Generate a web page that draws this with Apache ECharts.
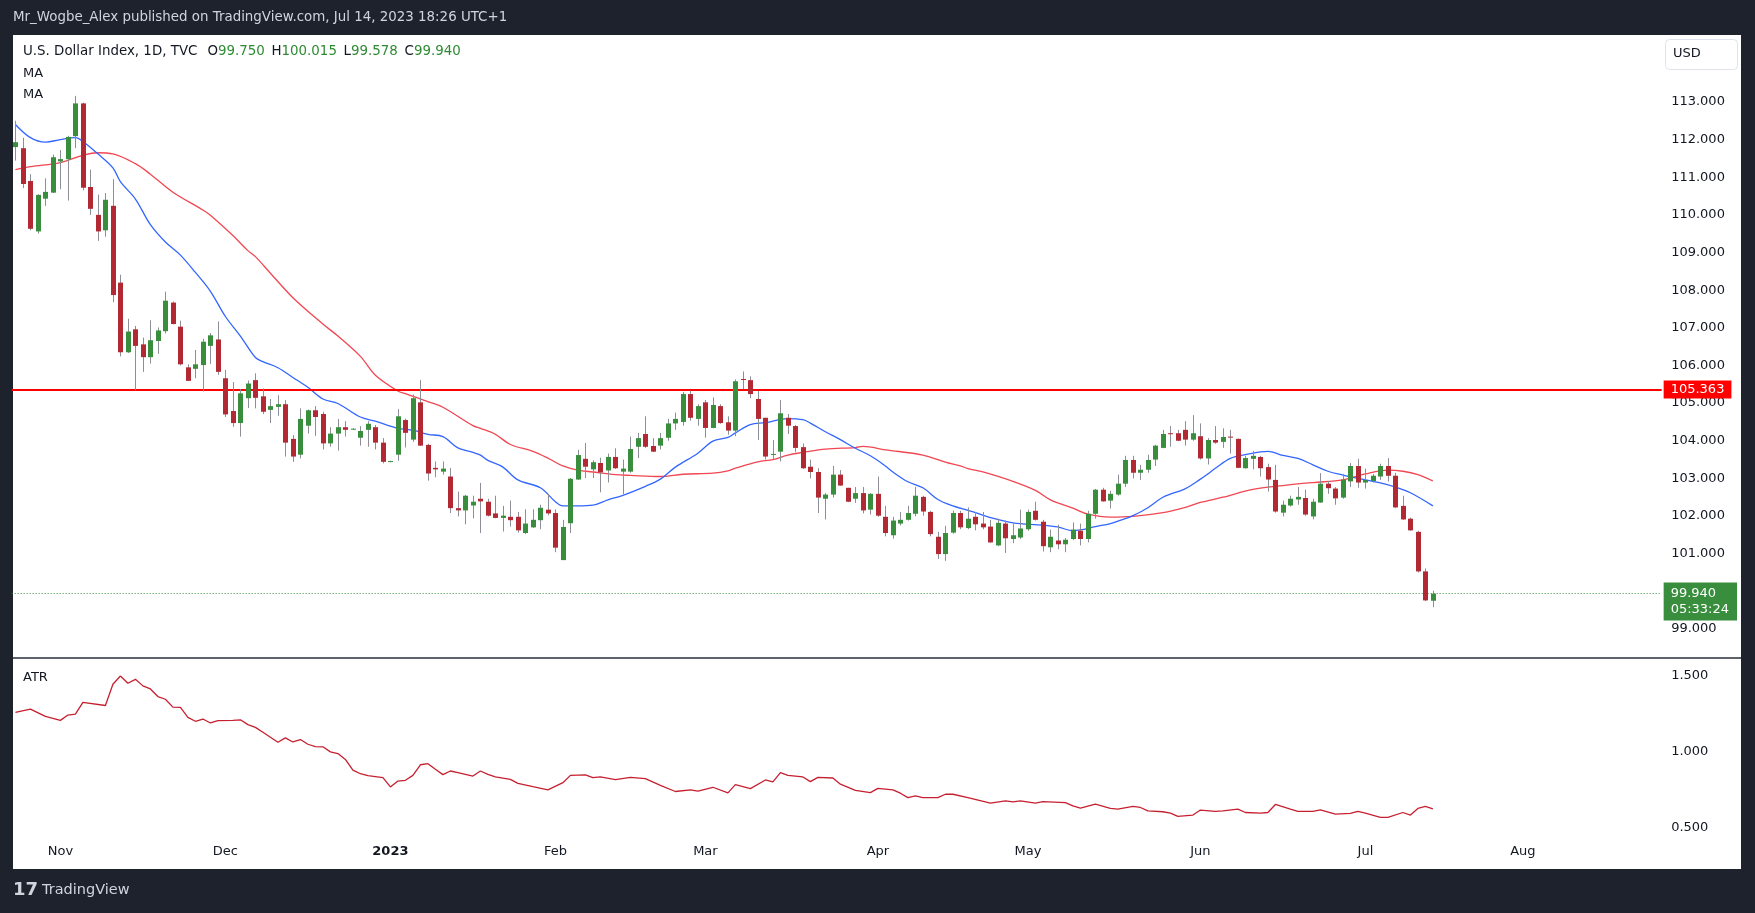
<!DOCTYPE html>
<html><head><meta charset="utf-8">
<script src="https://cdn.jsdelivr.net/npm/echarts@6/dist/echarts.min.js"></script>
<style>
html,body{margin:0;padding:0;background:#1e222d;overflow:hidden;}
#bg{position:absolute;left:13px;top:35px;width:1728px;height:834px;background:#ffffff;}
#c{position:absolute;left:0;top:0;width:1755px;height:913px;}
</style>
</head><body><div id="bg"></div><div id="c"></div>
<script>
// ---------- DATA ----------
const startDate = '2022-10-24';   // first visible trading day
const slotCount = 220;            // trading-day slots shown on the time axis (incl. future space)

const openP = [111.80,111.77,110.90,109.56,110.43,110.59,111.42,111.48,112.09,112.96,
110.74,110.00,109.59,110.24,108.20,106.35,106.96,106.56,106.22,106.65,
106.91,107.67,107.03,105.95,105.91,106.01,106.52,106.69,105.66,104.79,
104.47,105.13,105.61,105.18,104.82,104.90,104.97,104.05,103.63,104.40,
104.81,104.71,103.93,104.19,104.36,104.30,104.08,104.29,104.36,103.95,
103.44,103.63,104.55,104.03,105.02,103.89,103.28,103.18,103.05,102.21,
102.15,102.28,102.46,102.38,102.07,101.95,101.98,101.98,101.55,101.70,
101.89,102.17,102.08,100.83,101.81,102.97,103.52,103.24,103.41,103.21,
103.57,103.18,103.18,103.84,104.18,103.86,103.87,104.08,104.46,104.50,
105.24,104.58,105.02,104.34,104.92,104.49,104.27,105.64,105.61,105.11,
104.61,103.63,103.71,104.61,104.39,103.83,103.31,103.17,102.46,102.57,
103.10,102.75,102.46,102.61,102.17,102.59,101.98,101.49,101.80,101.90,
102.06,102.51,102.11,101.45,100.99,101.56,102.08,101.68,101.98,101.80,
101.72,101.22,101.80,101.39,101.43,101.65,102.14,101.85,101.17,101.35,
101.25,101.39,101.61,101.39,102.06,102.70,102.41,102.57,102.86,103.49,
103.15,103.23,103.50,103.81,104.20,104.20,104.29,104.03,104.12,103.53,
104.02,103.97,104.11,104.05,103.27,103.52,103.57,103.30,102.96,102.09,
102.28,102.44,102.48,101.99,102.36,102.86,102.73,102.49,102.92,103.33,
102.89,102.93,103.05,103.33,103.07,102.27,101.93,101.58,100.53,99.750];
const highP = [112.50,112.05,111.08,110.55,110.97,111.60,111.72,112.10,113.16,112.98,
111.20,110.54,110.58,110.95,108.41,107.24,107.05,106.74,107.20,107.01,
107.96,107.70,107.19,106.03,106.41,106.71,106.86,107.17,105.88,105.56,
105.37,105.60,105.79,105.39,105.11,105.21,105.08,104.15,104.86,104.83,
104.92,104.77,104.36,104.58,104.52,104.33,104.39,104.52,104.42,104.07,
103.47,104.84,104.59,105.23,105.61,103.92,103.45,103.45,103.28,102.65,
102.56,102.54,102.88,102.46,102.54,102.27,102.41,102.11,102.18,102.18,
102.30,102.58,102.18,101.90,103.01,103.76,103.94,103.48,103.55,103.66,
103.80,103.50,104.11,104.21,104.65,104.07,104.21,104.58,104.75,105.30,
105.33,104.97,105.08,105.15,104.97,104.65,105.63,105.84,105.71,105.32,
104.61,104.02,105.08,104.71,104.42,103.93,103.50,103.27,102.61,103.33,
103.22,102.75,102.77,102.77,102.61,103.05,102.27,101.98,102.11,102.27,
102.77,102.54,102.14,101.58,101.74,102.14,102.14,102.23,102.11,102.11,
101.90,101.93,101.88,101.80,102.17,102.17,102.38,101.90,101.64,101.77,
101.42,101.83,101.80,102.14,102.72,102.75,102.67,103.10,103.60,103.60,
103.36,103.63,103.89,104.29,104.39,104.29,104.52,104.68,104.46,104.07,
104.39,104.33,104.29,104.06,103.60,103.73,103.60,103.39,103.36,102.41,
102.54,102.77,102.70,102.46,103.14,102.93,102.77,103.12,103.41,103.52,
103.26,103.12,103.39,103.54,103.15,102.54,101.96,101.61,100.61,100.015];
const lowP = [111.44,110.71,109.59,109.50,110.24,110.58,110.68,110.38,111.77,110.65,
110.00,109.31,109.42,107.68,106.24,106.33,105.34,105.83,106.05,106.31,
106.85,107.09,106.00,105.59,105.66,105.31,106.04,105.75,104.63,104.37,
104.11,104.87,104.86,104.71,104.47,104.66,103.58,103.44,103.53,104.19,
104.13,103.77,103.84,103.74,104.11,104.29,103.87,103.84,103.77,103.40,
103.43,103.47,103.82,103.97,103.86,102.94,103.03,103.10,102.08,101.99,
101.78,101.94,101.55,101.99,101.94,101.59,101.72,101.56,101.52,101.68,
101.65,102.02,101.04,100.83,101.55,102.96,103.01,103.01,102.63,102.89,
103.25,102.58,103.15,103.54,103.81,103.70,103.77,104.00,104.29,104.40,
104.53,104.40,104.08,104.33,104.45,104.16,104.12,105.37,105.13,104.02,
103.50,103.50,103.45,104.18,103.69,103.25,103.00,102.08,101.91,102.49,
102.80,102.37,102.35,102.07,102.04,101.98,101.46,101.40,101.75,101.88,
101.99,102.01,101.46,100.86,100.81,101.53,101.65,101.65,101.62,101.65,
101.29,101.20,101.02,101.28,101.39,101.61,101.88,101.06,101.04,101.12,
101.04,101.36,101.22,101.30,101.93,102.38,102.20,102.54,102.77,103.00,
102.96,103.15,103.33,103.80,103.84,103.99,103.87,104.00,103.50,103.37,
103.92,103.81,103.66,103.27,103.26,103.24,103.05,102.65,102.09,101.99,
102.25,102.30,102.01,101.91,102.35,102.59,102.30,102.46,102.77,102.75,
102.73,102.89,102.96,102.92,102.21,101.90,101.61,100.50,99.74,99.578];
const closeP = [111.93,110.82,109.63,110.53,110.61,111.53,111.48,112.07,112.96,110.72,
110.16,109.56,110.40,107.87,106.35,106.90,106.52,106.22,106.67,106.93,
107.72,107.10,106.03,105.59,106.03,106.63,106.80,105.83,104.70,104.47,
105.26,105.52,105.14,104.77,104.92,104.97,103.95,103.58,104.58,104.81,
104.63,103.93,104.19,104.36,104.29,104.32,104.26,104.45,103.95,103.44,
103.46,104.65,104.21,105.13,103.87,103.13,103.24,103.26,102.21,102.15,
102.54,102.38,102.39,102.01,101.95,102.01,101.89,101.62,101.80,101.90,
102.22,102.07,101.16,101.71,102.99,103.62,103.31,103.43,103.16,103.57,
103.27,103.26,103.78,104.07,103.84,103.71,104.07,104.46,104.58,105.24,
104.61,104.92,104.34,104.95,104.47,104.27,105.58,105.62,105.24,104.58,
103.58,103.65,104.73,104.40,103.81,103.27,103.17,102.49,102.57,103.10,
102.81,102.38,102.61,102.15,102.59,102.01,101.55,101.88,101.90,102.08,
102.54,102.12,101.52,100.99,101.55,102.08,101.70,101.93,101.78,101.70,
101.30,101.82,101.41,101.49,101.67,102.11,101.90,101.20,101.45,101.25,
101.37,101.64,101.39,102.06,102.70,102.39,102.59,102.86,103.49,103.15,
103.23,103.49,103.87,104.18,104.18,104.00,104.03,104.20,103.53,104.02,
103.95,104.10,104.09,103.28,103.54,103.60,103.27,102.97,102.12,102.30,
102.46,102.51,102.04,102.38,102.86,102.74,102.47,102.97,103.33,102.89,
102.96,103.07,103.33,103.07,102.23,101.91,101.62,100.53,99.76,99.940];

// moving averages at selected bars (bar index, value)
const maFastIdx = [0,2,4,6,8,9,11,13,14,16,18,20,22,24,26,28,30,32,33,35,37,39,41,43,46,48,51,53,55,57,59,61,62,63,65,67,70,72,73,75,77,79,81,84,86,88,91,93,95,96,98,100,103,105,106,108,110,112,114,116,117,119,121,123,125,127,128,130,133,137,139,141,142,144,146,148,149,151,153,156,158,159,160,162,164,167,169,171,173,175,177,180,182,184,186,189];
const maFastVal = [112.40,112.05,111.93,112.00,112.05,111.95,111.62,111.25,110.88,110.42,109.74,109.28,108.93,108.47,107.97,107.30,106.78,106.21,106.10,105.94,105.68,105.42,105.11,104.99,104.63,104.52,104.33,104.28,104.17,104.11,103.81,103.69,103.62,103.48,103.30,102.96,102.75,102.38,102.27,102.27,102.29,102.43,102.55,102.79,102.98,103.30,103.67,103.99,104.09,104.21,104.43,104.48,104.59,104.56,104.47,104.24,104.03,103.80,103.60,103.33,103.17,102.91,102.75,102.44,102.27,102.15,102.09,101.96,101.82,101.76,101.71,101.61,101.63,101.72,101.80,101.93,102.01,102.22,102.50,102.73,102.98,103.12,103.27,103.53,103.63,103.72,103.61,103.53,103.36,103.19,103.09,102.96,102.88,102.77,102.62,102.27];
const maSlowIdx = [0,2,6,9,11,13,16,18,21,25,26,29,31,32,34,37,41,43,46,48,51,52,55,57,61,62,64,66,69,71,73,75,77,80,82,86,89,93,95,96,99,101,103,105,108,112,113,116,121,124,126,127,129,133,136,138,141,143,146,149,153,156,158,161,165,169,173,177,180,183,185,187,189];
const maSlowVal = [111.20,111.28,111.39,111.58,111.65,111.62,111.36,111.08,110.60,110.13,109.99,109.45,109.05,108.89,108.45,107.80,107.10,106.78,106.24,105.74,105.32,105.25,105.04,104.89,104.40,104.33,104.17,103.90,103.72,103.54,103.33,103.22,103.17,103.10,103.08,103.05,103.11,103.14,103.20,103.27,103.44,103.50,103.62,103.69,103.78,103.82,103.85,103.76,103.62,103.43,103.33,103.26,103.17,102.92,102.68,102.43,102.21,102.05,101.97,101.99,102.09,102.23,102.36,102.50,102.71,102.81,102.89,102.96,103.12,103.22,103.19,103.10,102.93];

// ATR (bar index, value)
const atrIdx = [0,2,4,6,7,8,9,12,13,14,15,16,17,18,19,20,21,22,23,24,25,26,27,29,30,31,32,33,35,36,37,38,39,40,41,42,43,44,45,46,47,49,50,51,52,53,54,55,56,57,58,59,61,62,63,64,66,67,69,71,73,74,76,77,78,80,82,84,86,88,90,91,93,95,96,98,100,101,102,103,105,106,107,109,110,112,114,115,117,118,119,120,121,123,124,125,127,130,132,133,134,136,137,140,141,142,144,146,147,149,150,151,153,154,155,157,158,160,161,163,164,166,167,168,170,171,173,174,176,178,179,180,182,183,185,186,187,188,189];
const atrVal = [1.260,1.282,1.234,1.208,1.243,1.249,1.326,1.306,1.446,1.500,1.452,1.478,1.435,1.415,1.365,1.347,1.295,1.293,1.228,1.202,1.217,1.191,1.206,1.208,1.212,1.180,1.162,1.130,1.064,1.093,1.066,1.082,1.051,1.036,1.034,1.001,0.990,0.951,0.881,0.857,0.845,0.831,0.770,0.809,0.814,0.846,0.916,0.923,0.886,0.851,0.875,0.864,0.842,0.875,0.853,0.836,0.820,0.794,0.772,0.751,0.798,0.846,0.849,0.831,0.836,0.818,0.833,0.825,0.781,0.740,0.751,0.742,0.768,0.731,0.785,0.759,0.816,0.803,0.864,0.846,0.836,0.805,0.833,0.829,0.788,0.748,0.733,0.761,0.751,0.729,0.700,0.711,0.700,0.700,0.722,0.722,0.700,0.663,0.679,0.672,0.679,0.663,0.674,0.667,0.646,0.631,0.657,0.629,0.624,0.642,0.635,0.613,0.607,0.598,0.576,0.585,0.618,0.609,0.613,0.624,0.602,0.598,0.602,0.655,0.624,0.609,0.609,0.620,0.591,0.596,0.609,0.598,0.570,0.570,0.602,0.585,0.629,0.642,0.626];

const priceMin = 99, priceMax = 113, priceStep = 1;
const atrMin = 0.5, atrMax = 1.5, atrStep = 0.5;
const monthTickDates = ['2022-11-01','2022-12-01','2023-01-02','2023-02-01','2023-03-01','2023-04-03','2023-05-01','2023-06-01','2023-07-03','2023-08-01'];
const monthTickLabels = ['Nov','Dec','2023','Feb','Mar','Apr','May','Jun','Jul','Aug'];
const resistanceLevel = 105.363;
const lastClose = 99.940;
const countdown = '05:33:24';

// ---------- BUILD ----------
function weekdays(start, n){
  const out=[]; const d=new Date(start+'T00:00:00Z');
  while(out.length<n){ const w=d.getUTCDay(); if(w!==0&&w!==6) out.push(d.toISOString().slice(0,10)); d.setUTCDate(d.getUTCDate()+1); }
  return out;
}
const categories = weekdays(startDate, slotCount);
const candleData = openP.map((o,i)=>[i,o,closeP[i],lowP[i],highP[i]]);
const pairs = (idx, val) => idx.map((x,k)=>[x,val[k]]);
const tickMap = {}; monthTickDates.forEach((d,k)=>tickMap[d]=monthTickLabels[k]);

const UP='#388e3c', DOWN='#b22833', WICK='#8c8f97', TXT='#131722';
const FONT='DejaVu Sans, Verdana, sans-serif';

function renderCandle(params, api){
  const i=api.value(0), o=api.value(1), c=api.value(2), l=api.value(3), h=api.value(4);
  const pO=api.coord([i,o]), pC=api.coord([i,c]), pL=api.coord([i,l]), pH=api.coord([i,h]);
  const bw=Math.round(api.size([1,0])[0]*0.67);
  const cx=Math.round(pO[0]);
  const top=Math.min(pO[1],pC[1]), bh=Math.max(1,Math.abs(pO[1]-pC[1]));
  return {type:'group',children:[
    {type:'line',shape:{x1:cx+0.5,y1:pH[1],x2:cx+0.5,y2:pL[1]},style:{stroke:WICK,lineWidth:1}},
    {type:'rect',shape:{x:cx+0.5-bw/2,y:top,width:bw,height:bh},style:{fill:c>=o?UP:DOWN}}
  ]};
}

const gridLeft=11.65, gridWidth=1650;
const chart = echarts.init(document.getElementById('c'), null, {renderer:'canvas'});
chart.setOption({
  backgroundColor:'transparent',
  animation:false,
  textStyle:{fontFamily:FONT},
  grid:[
    {left:gridLeft,width:gridWidth,top:101.9,height:527.1},
    {left:gridLeft,width:gridWidth,top:676,height:152}
  ],
  xAxis:[
    {type:'category',gridIndex:0,data:categories,boundaryGap:true,
     axisLine:{show:false},axisTick:{show:false},axisLabel:{show:false},splitLine:{show:false}},
    {type:'category',gridIndex:1,data:categories,boundaryGap:true,
     axisLine:{show:false},axisTick:{show:false},splitLine:{show:false},
     axisLabel:{show:true,margin:17,color:TXT,fontSize:13,fontFamily:FONT,
       interval:(idx,val)=>tickMap[val]!==undefined,
       formatter:(val)=>tickMap[val]==='2023'?'{b|2023}':(tickMap[val]||''),
       rich:{b:{fontWeight:'bold',fontSize:13,color:TXT,fontFamily:FONT}}}}
  ],
  yAxis:[
    {type:'value',gridIndex:0,position:'right',min:priceMin,max:priceMax,interval:priceStep,
     axisLine:{show:false},axisTick:{show:false},splitLine:{show:false},
     axisLabel:{margin:9.5,color:TXT,fontSize:13,fontFamily:FONT,formatter:v=>v.toFixed(3)}},
    {type:'value',gridIndex:1,position:'right',min:atrMin,max:atrMax,interval:atrStep,
     axisLine:{show:false},axisTick:{show:false},splitLine:{show:false},
     axisLabel:{margin:9.5,color:TXT,fontSize:13,fontFamily:FONT,formatter:v=>v.toFixed(3)}}
  ],
  series:[
    {type:'line',name:'MA slow',xAxisIndex:0,yAxisIndex:0,data:pairs(maSlowIdx,maSlowVal),
     smooth:0.35,symbol:'none',lineStyle:{color:'#f04752',width:1.3},z:3},
    {type:'line',name:'MA fast',xAxisIndex:0,yAxisIndex:0,data:pairs(maFastIdx,maFastVal),
     smooth:0.35,symbol:'none',lineStyle:{color:'#3366ff',width:1.3},z:3,
     markLine:{silent:true,symbol:['none','none'],animation:false,
       data:[
        {yAxis:resistanceLevel,lineStyle:{color:'#ff0000',width:2,type:'solid'},
         label:{show:true,position:'end',distance:2,formatter:resistanceLevel.toFixed(3),
           backgroundColor:'#ff0000',color:'#ffffff',fontSize:13,fontFamily:FONT,padding:[3,7,2,7]}},
        {yAxis:lastClose,lineStyle:{color:UP,width:1,type:[1,2]},
         label:{show:true,position:'end',distance:2,offset:[0,8],formatter:lastClose.toFixed(3)+'\n'+countdown,
           backgroundColor:UP,color:'#ffffff',fontSize:13,lineHeight:16,fontFamily:FONT,padding:[3,8,3,7]}}
       ]}},
    {type:'custom',name:'DXY',xAxisIndex:0,yAxisIndex:0,data:candleData,renderItem:renderCandle,
     encode:{x:0,y:[1,2,3,4]},z:5,clip:false},
    {type:'line',name:'ATR',xAxisIndex:1,yAxisIndex:1,data:pairs(atrIdx,atrVal),
     symbol:'none',lineStyle:{color:'#c62030',width:1.3}}
  ],
  graphic:[
    {type:'text',left:13,top:11,style:{text:'Mr_Wogbe_Alex published on TradingView.com, Jul 14, 2023 18:26 UTC+1',fill:'#d1d4dc',fontSize:13.4,fontFamily:FONT}},
    {type:'text',left:23,top:45,style:{
      text:'{n|U.S. Dollar Index, 1D, TVC}   {n|O}{g|99.750}  {n|H}{g|100.015}  {n|L}{g|99.578}  {n|C}{g|99.940}',
      rich:{n:{fill:TXT,fontSize:13.4,fontFamily:FONT},g:{fill:'#2e8b33',fontSize:13.4,fontFamily:FONT}}}},
    {type:'text',left:23,top:67,style:{text:'MA',fill:TXT,fontSize:13,fontFamily:FONT}},
    {type:'text',left:23,top:88,style:{text:'MA',fill:TXT,fontSize:13,fontFamily:FONT}},
    {type:'text',left:23,top:671,style:{text:'ATR',fill:TXT,fontSize:13,fontFamily:FONT}},
    {type:'rect',left:1665,top:39,shape:{width:72,height:30,r:4},style:{fill:'#ffffff',stroke:'#e0e3eb',lineWidth:1}},
    {type:'text',left:1673,top:47,style:{text:'USD',fill:TXT,fontSize:13,fontFamily:FONT}},
    {type:'line',shape:{x1:13,y1:658,x2:1741,y2:658},style:{stroke:'#2a2e39',lineWidth:1.5}},
    {type:'text',left:13,top:881,style:{text:'17',fill:'#d1d4dc',fontSize:18,fontWeight:'bold',fontFamily:FONT}},
    {type:'text',left:42,top:883,style:{text:'TradingView',fill:'#d1d4dc',fontSize:14.5,fontFamily:FONT}}
  ]
});
</script>
</body></html>
